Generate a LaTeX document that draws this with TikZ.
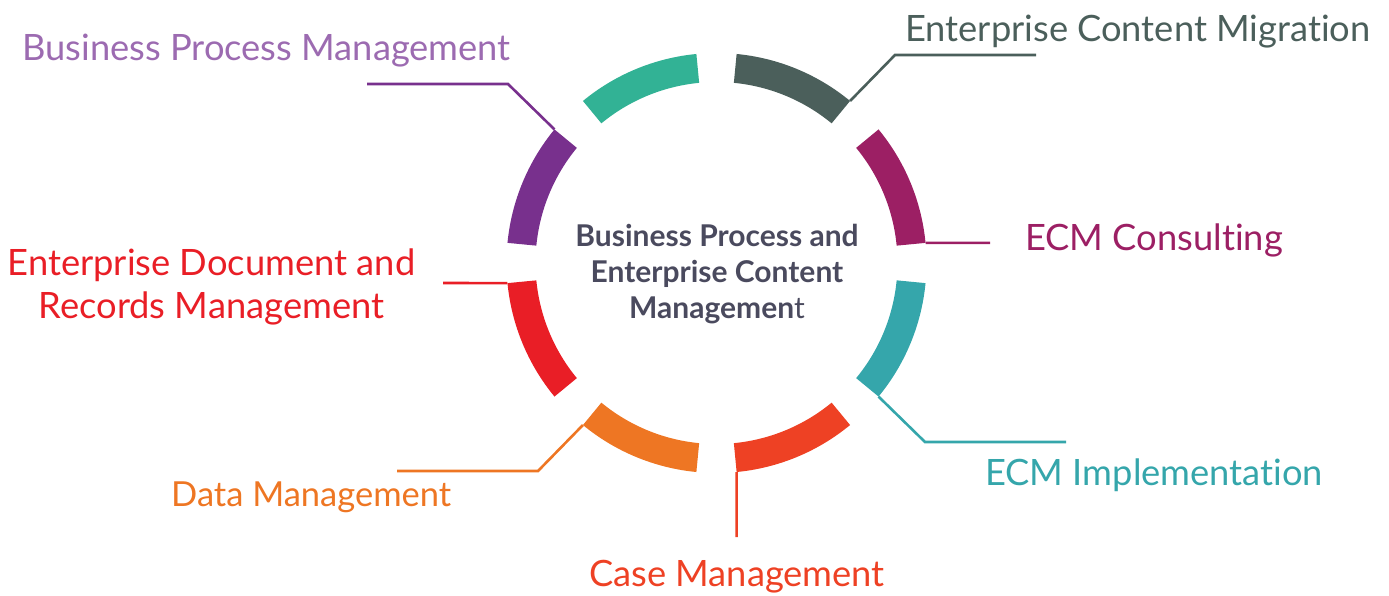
\documentclass[tikz,border=0pt]{standalone}
\usepackage{fontspec}
\setmainfont{Lato}[Ligatures=NoCommon]
\definecolor{segmig}{HTML}{4B5F5B}
\definecolor{segbpm}{HTML}{32B295}
\definecolor{segproc}{HTML}{78308D}
\definecolor{txtproc}{HTML}{9C6BB1}
\definecolor{segcons}{HTML}{9C1F64}
\definecolor{segimpl}{HTML}{35A6AB}
\definecolor{segcase}{HTML}{EE4124}
\definecolor{segdata}{HTML}{EE7623}
\definecolor{segrec}{HTML}{E91E26}
\definecolor{hubtext}{HTML}{4A4A5E}
\begin{document}
\begin{tikzpicture}[x=1pt, y=1pt]
        \tikzset{
            lbl/.style={inner sep=0pt, font=\fontsize{36.3}{43}\selectfont},
            hub/.style={inner sep=0pt, align=center, text=hubtext, font=\fontsize{30}{36}\selectfont\bfseries},
            leader/.style={line width=2.6pt}
        }
        \useasboundingbox (0,0) rectangle (1389,595);
        \coordinate (ring) at (716.5,332);
        % ring segments, outer radius 210, inner radius 181
        \fill[segcons] ([shift={(5.5:210)}]ring) arc[start angle=5.5, end angle=39.5, radius=210] -- ([shift={(39.5:181)}]ring) arc[start angle=39.5, end angle=5.5, radius=181] -- cycle;
        \fill[segmig] ([shift={(50.5:210)}]ring) arc[start angle=50.5, end angle=84.5, radius=210] -- ([shift={(84.5:181)}]ring) arc[start angle=84.5, end angle=50.5, radius=181] -- cycle;
        \fill[segbpm] ([shift={(95.5:210)}]ring) arc[start angle=95.5, end angle=129.5, radius=210] -- ([shift={(129.5:181)}]ring) arc[start angle=129.5, end angle=95.5, radius=181] -- cycle;
        \fill[segproc] ([shift={(140.5:210)}]ring) arc[start angle=140.5, end angle=174.5, radius=210] -- ([shift={(174.5:181)}]ring) arc[start angle=174.5, end angle=140.5, radius=181] -- cycle;
        \fill[segrec] ([shift={(185.5:210)}]ring) arc[start angle=185.5, end angle=219.5, radius=210] -- ([shift={(219.5:181)}]ring) arc[start angle=219.5, end angle=185.5, radius=181] -- cycle;
        \fill[segdata] ([shift={(230.5:210)}]ring) arc[start angle=230.5, end angle=264.5, radius=210] -- ([shift={(264.5:181)}]ring) arc[start angle=264.5, end angle=230.5, radius=181] -- cycle;
        \fill[segcase] ([shift={(275.5:210)}]ring) arc[start angle=275.5, end angle=309.5, radius=210] -- ([shift={(309.5:181)}]ring) arc[start angle=309.5, end angle=275.5, radius=181] -- cycle;
        \fill[segimpl] ([shift={(320.5:210)}]ring) arc[start angle=320.5, end angle=354.5, radius=210] -- ([shift={(354.5:181)}]ring) arc[start angle=354.5, end angle=320.5, radius=181] -- cycle;
        % centre text
        \node[hub] (core) at (717,321) {Business Process and\\Enterprise Content\\Managemen{\mdseries t}};
        % labels
        \node[lbl, text=txtproc, anchor=base west] (proc) at (22,534) {Business Process Management};
        \node[lbl, text=segmig, anchor=base west] (mig) at (905,553) {Enterprise Content Migration};
        \node[lbl, text=segcons, anchor=base west] (cons) at (1025,344) {ECM Consulting};
        \node[lbl, text=segimpl, anchor=base west] (impl) at (985,110) {ECM Implementation};
        \node[lbl, text=segcase, anchor=base] (case) at (737,9) {Case Management};
        \node[lbl, text=segdata, anchor=base west, font=\fontsize{34.5}{43}\selectfont] (data) at (171,89) {Data Management};
        \node[lbl, text=segrec, align=center] (rec) at (211.5,308.5) {Enterprise Document and\\Records Management};
        % leader lines
        \coordinate (procend) at (367,511);
        \coordinate (procbend) at (508,511);
        \coordinate (migbend) at (895,540);
        \coordinate (migend) at (1036,540);
        \coordinate (consend) at (990,352.1);
        \coordinate (implbend) at (925,153);
        \coordinate (implend) at (1066,153);
        \coordinate (caseend) at (736.6,58);
        \coordinate (databend) at (538,124);
        \coordinate (dataend) at (397,124);
        \coordinate (recend) at (443,312);
        \draw[leader, segproc] ([shift={(140.5:210)}]ring) -- (procbend) -- (procend);
        \draw[leader, segmig] ([shift={(50.5:210)}]ring) -- (migbend) -- (migend);
        \draw[leader, segcons] ([shift={(5.5:210)}]ring) -- (consend);
        \draw[leader, segimpl] ([shift={(320.5:210)}]ring) -- (implbend) -- (implend);
        \draw[leader, segcase] ([shift={(275.5:210)}]ring) -- (caseend);
        \draw[leader, segdata] ([shift={(230.5:210)}]ring) -- (databend) -- (dataend);
        \draw[leader, segrec] ([shift={(185.5:210)}]ring) -- (recend);
    \end{tikzpicture}
\end{document}
